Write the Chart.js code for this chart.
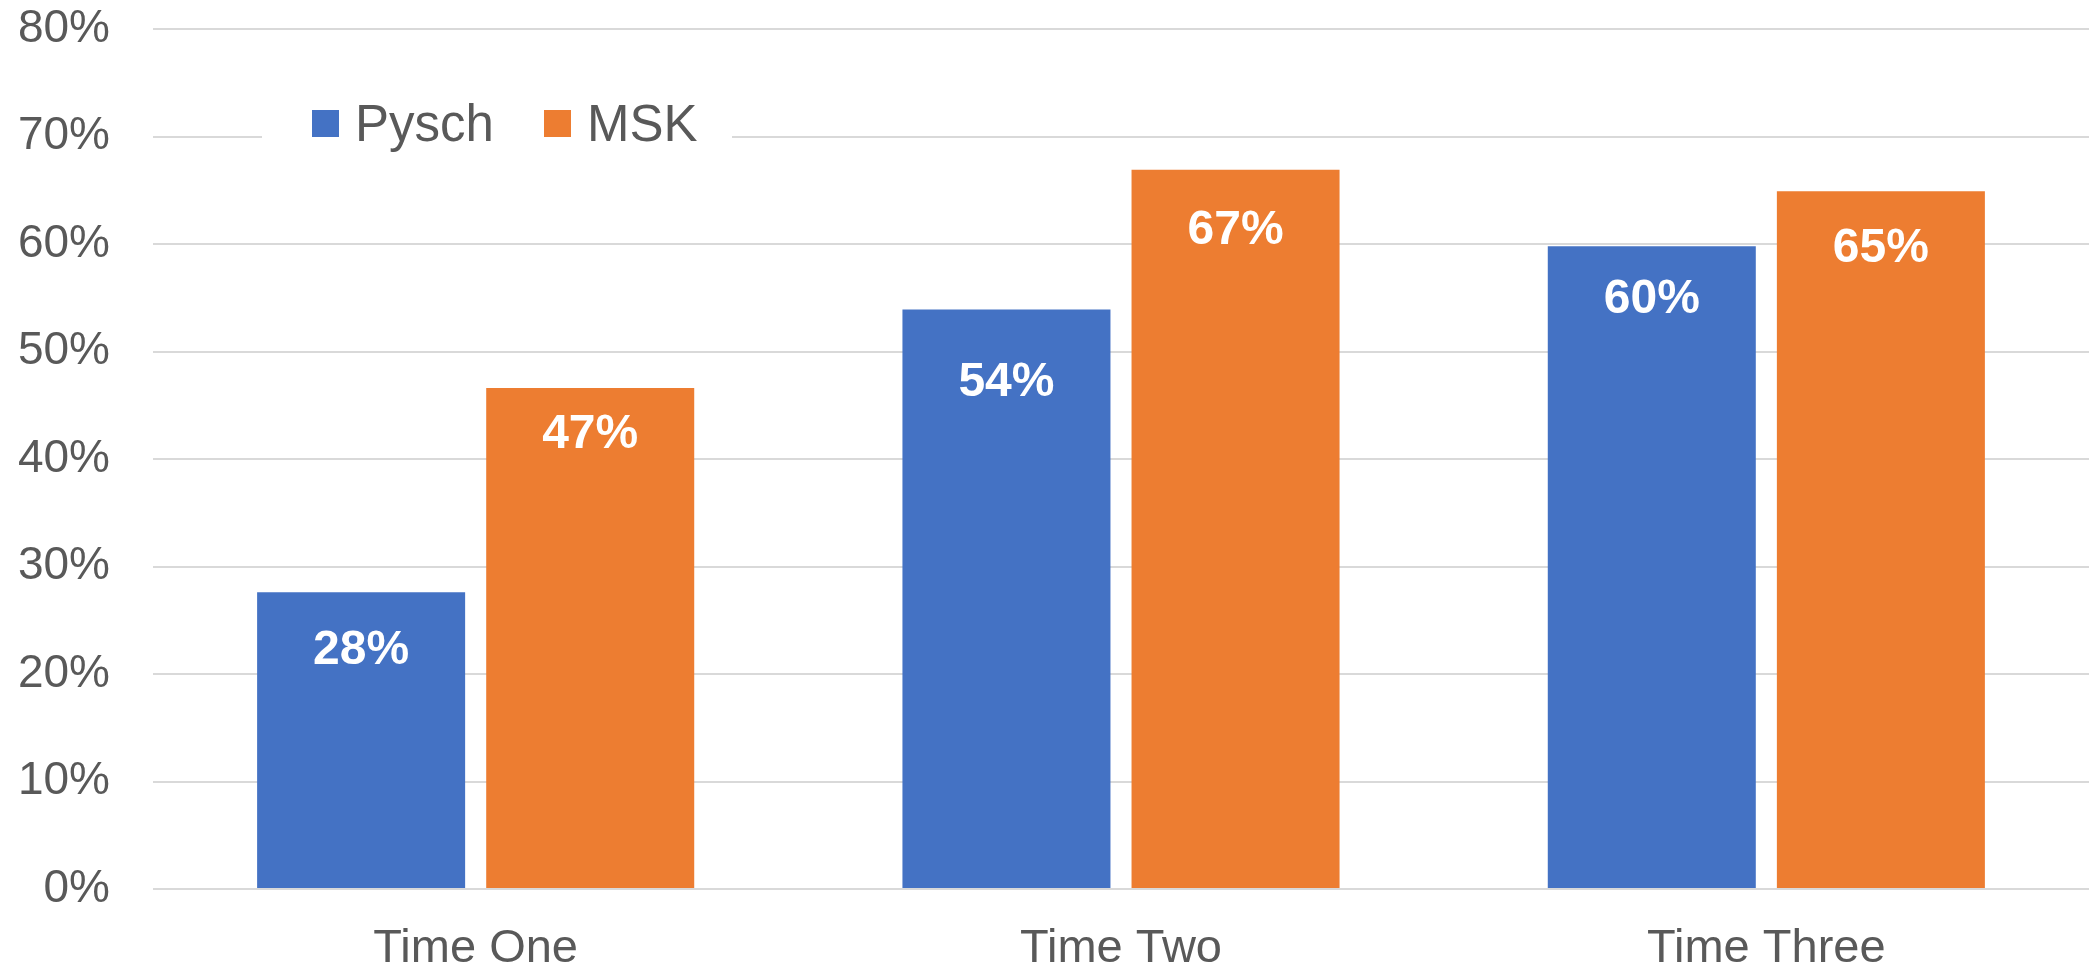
<!DOCTYPE html>
<html>
<head>
<meta charset="utf-8">
<script src="https://cdn.jsdelivr.net/npm/chart.js@4"></script>
<style>
  html, body { margin: 0; padding: 0; background: #fff; }
  #wrap { width: 2089px; height: 967px; }
</style>
</head>
<body>
<div id="wrap"><canvas id="chart-times" width="2089" height="967"></canvas></div>
<script>
const time_labels = ["Time One", "Time Two", "Time Three"];
const pysch_values = [27.6, 53.9, 59.8];
const msk_values = [46.6, 66.9, 64.9];
const y_ticks = [0, 10, 20, 30, 40, 50, 60, 70, 80];

const text_grey = "#595959";
const font_family = "'Liberation Sans', Arial, sans-serif";

// white value labels sitting inside the top of each bar
const bar_labels = {
  id: "barLabels",
  afterDatasetsDraw(chart, args, opts) {
    const ctx = chart.ctx;
    ctx.save();
    ctx.fillStyle = "#fff";
    ctx.font = "bold 48px " + font_family;
    ctx.textAlign = "center";
    ctx.textBaseline = "middle";
    chart.data.datasets.forEach((ds, di) => {
      chart.getDatasetMeta(di).data.forEach((bar, i) => {
        const drop = opts.drop[di][i];
        ctx.fillText(Math.round(ds.data[i]) + "%", bar.x, bar.y + drop);
      });
    });
    ctx.restore();
  }
};

// legend drawn over the gridlines, with a white box behind it
const inset_legend = {
  id: "insetLegend",
  beforeDatasetsDraw(chart) {
    const ctx = chart.ctx;
    ctx.save();
    ctx.fillStyle = "#fff";
    ctx.fillRect(262, 96, 470, 60);
    ctx.font = "51px " + font_family;
    ctx.textBaseline = "alphabetic";
    const xs = [312, 544];
    chart.data.datasets.forEach((ds, i) => {
      ctx.fillStyle = ds.backgroundColor;
      ctx.fillRect(xs[i], 110, 27, 27);
      ctx.fillStyle = text_grey;
      ctx.fillText(ds.label, xs[i] + 43, 141);
    });
    ctx.restore();
  }
};

const config_times = {
  type: "bar",
  data: {
    labels: time_labels,
    datasets: [
      { label: "Pysch", data: pysch_values, backgroundColor: "#4472C4" },
      { label: "MSK", data: msk_values, backgroundColor: "#ED7D31" }
    ]
  },
  options: {
    responsive: false,
    animation: false,
    devicePixelRatio: 1,
    layout: { padding: { top: 29, right: 0, left: 0, bottom: 0 } },
    datasets: {
      bar: { categoryPercentage: 0.71, barPercentage: 0.908 }
    },
    scales: {
      x: {
        grid: { display: false },
        border: { display: false },
        ticks: {
          color: text_grey,
          padding: 24,
          font: { family: font_family, size: 47 }
        },
        afterFit(scale) { scale.height = 78; }
      },
      y: {
        min: 0,
        max: 80,
        afterBuildTicks(scale) {
          scale.ticks = y_ticks.map(v => ({ value: v }));
        },
        grid: { color: "#d9d9d9", lineWidth: 2, drawTicks: false },
        border: { display: false },
        ticks: {
          color: text_grey,
          padding: 43,
          font: { family: font_family, size: 46 },
          callback: v => v + "%"
        },
        afterFit(scale) {
          scale.width = 153;
          // tick padding would otherwise push the plot down
          scale.paddingTop = 0;
          scale.paddingBottom = 0;
        }
      }
    },
    plugins: {
      legend: { display: false },
      tooltip: { enabled: false },
      barLabels: {
        drop: [[58, 73, 54], [47, 61, 57]]
      }
    }
  },
  plugins: [inset_legend, bar_labels]
};

new Chart(document.getElementById("chart-times"), config_times);
</script>
</body>
</html>
